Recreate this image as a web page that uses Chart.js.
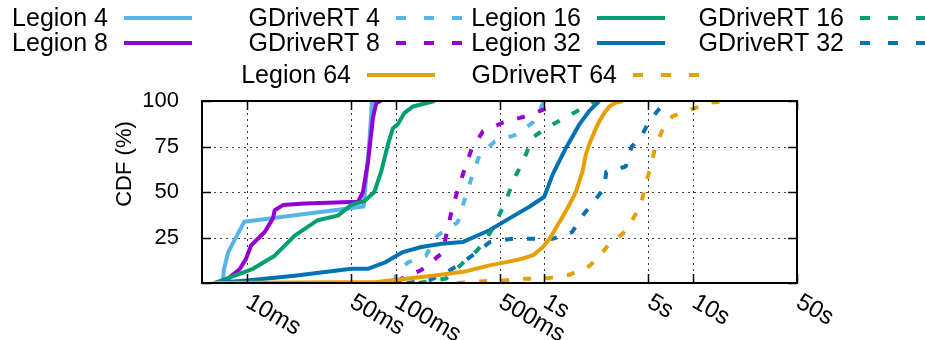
<!DOCTYPE html>
<html>
<head>
<meta charset="utf-8">
<script src="https://cdn.jsdelivr.net/npm/chart.js@4.4.1/dist/chart.umd.min.js"></script>
<style>
  html, body { margin: 0; padding: 0; background: #fff; }
</style>
</head>
<body>
<canvas id="cdf-chart" width="925" height="340"></canvas>
<script>
'use strict';

// latency in ms, CDF in %
const legion4Ms = [6.9, 7.0, 7.5, 9.6, 61, 63, 65, 67, 69.5];
const legion4Cdf = [0, 7, 17, 33.6, 42, 55, 67, 80, 100];
const legion8Ms = [7.0, 7.9, 9.0, 9.9, 10.7, 13.2, 15.0, 15.4, 17.5, 24.5, 56, 60.5, 65.3, 70.5, 74.2, 80];
const legion8Cdf = [0, 4, 7.8, 13.4, 20.7, 28, 35.5, 40, 42.8, 43.7, 44.6, 50.2, 66.7, 90.7, 99, 100];
const legion16Ms = [6.1, 8.3, 11, 15.4, 21, 30, 41, 50.5, 62, 72, 80, 88.8, 96, 103, 115, 131, 183];
const legion16Cdf = [0, 4, 7.8, 15, 26, 34.5, 37, 43, 45, 50, 61, 76, 85, 87, 93.5, 97, 100];
const legion32Ms = [6, 10, 21, 33.5, 50.5, 65, 86, 112, 149, 204, 282, 428, 583, 794, 1000, 1136, 1395, 1716, 2000, 2340];
const legion32Cdf = [0, 1.4, 4, 6, 7.8, 7.8, 11.5, 17, 19.8, 21.6, 22.5, 29, 35.5, 41.9, 47.4, 59.4, 74.1, 87, 94.4, 100];
const legion64Ms = [6, 75, 178, 300, 428, 600, 715, 850, 980, 1100, 1208, 1340, 1470, 1630, 1804, 1900, 2000, 2170, 2340, 2540, 2740, 3000, 3360];
const legion64Cdf = [0, 0.5, 4, 6.5, 9.7, 12, 13.4, 15.5, 19.8, 25, 30.8, 37, 42.8, 50, 61, 70.4, 76, 83, 88.8, 93.5, 97, 99, 100];

const gdrive4Ms = [100, 100.5, 121, 160, 192, 262, 291, 324, 367, 463, 646, 833, 1000];
const gdrive4Cdf = [0, 5, 11.3, 15, 26.2, 33.4, 45.6, 57.7, 70.4, 77.6, 81.5, 88, 100];
const gdrive8Ms = [104, 109, 148, 207, 221, 237, 260, 291, 324, 386, 528, 738, 1030, 1100];
const gdrive8Cdf = [0, 2.3, 7, 16.6, 27.6, 38.7, 50.3, 62.4, 73.4, 83.2, 88.2, 91.5, 95.8, 100];
const gdrive16Ms = [143, 219, 282, 355, 410, 463, 555, 630, 718, 833, 980, 1230, 1590, 2000, 2200];
const gdrive16Cdf = [0, 2.5, 10.8, 18, 24.6, 31.8, 45.6, 57.7, 66.5, 79.8, 84, 88.6, 93.6, 98, 100];
const gdrive32Ms = [119, 168, 222, 276, 352, 428, 608, 1136, 1540, 1770, 2110, 2530, 2610, 3530, 3870, 4470, 5040, 5880, 7000];
const gdrive32Cdf = [0, 1.4, 6, 10.8, 16.8, 22.4, 24.3, 24.3, 28, 36, 44, 52, 61, 64, 75, 80, 88.6, 95.3, 100];
const gdrive64Ms = [260, 386, 540, 752, 1050, 1470, 1950, 2340, 2730, 3360, 3900, 4450, 4800, 5200, 5620, 6400, 7270, 9650, 12900, 17400];
const gdrive64Cdf = [0, 1, 1.4, 2.3, 2.6, 4.5, 8.5, 14.3, 21.6, 27, 34.5, 42.8, 53.9, 64, 76, 86, 91.6, 95.3, 99, 100];

const xTickValues = [10, 50, 100, 500, 1000, 5000, 10000, 50000];
const xTickLabels = ['10ms', '50ms', '100ms', '500ms', '1s', '5s', '10s', '50s'];
const yTickValues = [0, 25, 50, 75, 100];

const FONT = '"Liberation Sans", Arial, Helvetica, sans-serif';
Chart.defaults.font.family = FONT;

const colLight = '#56b4e9';
const colPurple = '#9400d3';
const colGreen = '#009e73';
const colBlue = '#0072b2';
const colOrange = '#e69f00';

function toPoints(ms, cdf) {
    return ms.map(function (v, i) { return {x: v, y: cdf[i]}; });
}

function makeSeries(label, ms, cdf, color, dashed, order) {
    return {
        label: label,
        data: toPoints(ms, cdf),
        borderColor: color,
        backgroundColor: color,
        borderWidth: 4,
        borderDash: dashed ? [8, 14] : [],
        borderJoinStyle: 'round',
        pointRadius: 0,
        fill: false,
        order: order,
    };
}

// lower order is drawn on top
const datasets = [
    makeSeries('Legion 4', legion4Ms, legion4Cdf, colLight, false, 10),
    makeSeries('Legion 8', legion8Ms, legion8Cdf, colPurple, false, 9),
    makeSeries('GDriveRT 4', gdrive4Ms, gdrive4Cdf, colLight, true, 8),
    makeSeries('GDriveRT 8', gdrive8Ms, gdrive8Cdf, colPurple, true, 7),
    makeSeries('Legion 16', legion16Ms, legion16Cdf, colGreen, false, 6),
    makeSeries('Legion 32', legion32Ms, legion32Cdf, colBlue, false, 5),
    makeSeries('GDriveRT 16', gdrive16Ms, gdrive16Cdf, colGreen, true, 4),
    makeSeries('GDriveRT 32', gdrive32Ms, gdrive32Cdf, colBlue, true, 3),
    makeSeries('Legion 64', legion64Ms, legion64Cdf, colOrange, false, 2),
    makeSeries('GDriveRT 64', gdrive64Ms, gdrive64Cdf, colOrange, true, 1),
];

// gnuplot style key: text right aligned, then the line sample
const keySlots = {
    'Legion 4': [108, 18],
    'Legion 8': [108, 43],
    'GDriveRT 4': [380, 18],
    'GDriveRT 8': [380, 43],
    'Legion 16': [581, 18],
    'Legion 32': [581, 43],
    'GDriveRT 16': [844, 18],
    'GDriveRT 32': [844, 43],
    'Legion 64': [351, 75],
    'GDriveRT 64': [617, 75],
};

const gnuplotKey = {
    id: 'gnuplotKey',
    afterDraw: function (chart) {
        const ctx = chart.ctx;
        ctx.save();
        ctx.font = '25px ' + FONT;
        ctx.textAlign = 'right';
        ctx.textBaseline = 'middle';
        chart.data.datasets.forEach(function (ds) {
            const slot = keySlots[ds.label];
            if (!slot) return;
            ctx.fillStyle = '#000';
            ctx.fillText(ds.label, slot[0], slot[1] + 1);
            ctx.strokeStyle = ds.borderColor;
            ctx.lineWidth = 4;
            ctx.setLineDash(ds.borderDash.length ? [10, 18] : []);
            ctx.beginPath();
            ctx.moveTo(slot[0] + 16, slot[1]);
            ctx.lineTo(slot[0] + 84, slot[1]);
            ctx.stroke();
        });
        ctx.restore();
    },
};

// dotted grid behind the curves
const gnuplotGrid = {
    id: 'gnuplotGrid',
    beforeDatasetsDraw: function (chart) {
        const ctx = chart.ctx;
        const a = chart.chartArea;
        const xs = chart.scales.x;
        const ys = chart.scales.y;
        ctx.save();
        ctx.strokeStyle = 'rgba(0,0,0,0.75)';
        ctx.lineWidth = 1;
        ctx.setLineDash([2, 4]);
        ctx.beginPath();
        xTickValues.forEach(function (v) {
            const px = Math.round(xs.getPixelForValue(v)) + 0.5;
            ctx.moveTo(px, a.bottom);
            ctx.lineTo(px, a.top);
        });
        yTickValues.forEach(function (v) {
            const py = Math.round(ys.getPixelForValue(v)) + 0.5;
            ctx.moveTo(a.left, py);
            ctx.lineTo(a.right, py);
        });
        ctx.stroke();
        ctx.restore();
    },
};

const gnuplotFrame = {
    id: 'gnuplotFrame',
    afterDatasetsDraw: function (chart) {
        const ctx = chart.ctx;
        const a = chart.chartArea;
        const xs = chart.scales.x;
        const ys = chart.scales.y;
        ctx.save();
        ctx.strokeStyle = '#000';
        ctx.lineWidth = 1.5;
        ctx.setLineDash([]);
        ctx.beginPath();
        xTickValues.forEach(function (v) {
            const px = Math.round(xs.getPixelForValue(v)) + 0.5;
            ctx.moveTo(px, a.bottom);
            ctx.lineTo(px, a.bottom - 9);
            ctx.moveTo(px, a.top);
            ctx.lineTo(px, a.top + 9);
        });
        yTickValues.forEach(function (v) {
            const py = Math.round(ys.getPixelForValue(v)) + 0.5;
            ctx.moveTo(a.left, py);
            ctx.lineTo(a.left + 9, py);
            ctx.moveTo(a.right, py);
            ctx.lineTo(a.right - 9, py);
        });
        ctx.stroke();
        ctx.lineWidth = 2;
        ctx.strokeRect(a.left, a.top, a.right - a.left, a.bottom - a.top);

        // rotated x tick labels
        ctx.fillStyle = '#000';
        ctx.font = '24px ' + FONT;
        ctx.textAlign = 'left';
        ctx.textBaseline = 'top';
        xTickValues.forEach(function (v, i) {
            const px = xs.getPixelForValue(v);
            ctx.save();
            ctx.translate(px + 7, a.bottom + 7);
            ctx.rotate(Math.PI / 6);
            ctx.fillText(xTickLabels[i], 0, 0);
            ctx.restore();
        });

        // y axis title
        ctx.save();
        ctx.font = '22px ' + FONT;
        ctx.textAlign = 'center';
        ctx.textBaseline = 'middle';
        ctx.translate(125, 164);
        ctx.rotate(-Math.PI / 2);
        ctx.fillText('CDF (%)', 0, 0);
        ctx.restore();
        ctx.restore();
    },
};

const ctx = document.getElementById('cdf-chart').getContext('2d');
window.cdfChart = new Chart(ctx, {
    type: 'line',
    data: {datasets: datasets},
    options: {
        responsive: false,
        animation: false,
        layout: {padding: {top: 101, right: 128, left: 0, bottom: 0}},
        plugins: {
            legend: {display: false},
            tooltip: {enabled: false},
        },
        elements: {line: {tension: 0}, point: {radius: 0}},
        scales: {
            x: {
                type: 'logarithmic',
                min: 5,
                max: 50000,
                afterBuildTicks: function (scale) {
                    scale.ticks = xTickValues.map(function (v) { return {value: v}; });
                },
                afterFit: function (scale) { scale.height = 57; },
                ticks: {display: false},
                grid: {display: false},
                border: {display: false},
            },
            y: {
                type: 'linear',
                min: 0,
                max: 100,
                afterBuildTicks: function (scale) {
                    scale.ticks = yTickValues.map(function (v) { return {value: v}; });
                },
                afterFit: function (scale) { scale.width = 202; },
                ticks: {
                    color: '#000',
                    padding: 15,
                    font: {size: 22},
                    callback: function (v) { return v === 0 ? '' : v; },
                },
                grid: {display: false},
                border: {display: false},
            },
        },
    },
    plugins: [gnuplotGrid, gnuplotFrame, gnuplotKey],
});
</script>
</body>
</html>
